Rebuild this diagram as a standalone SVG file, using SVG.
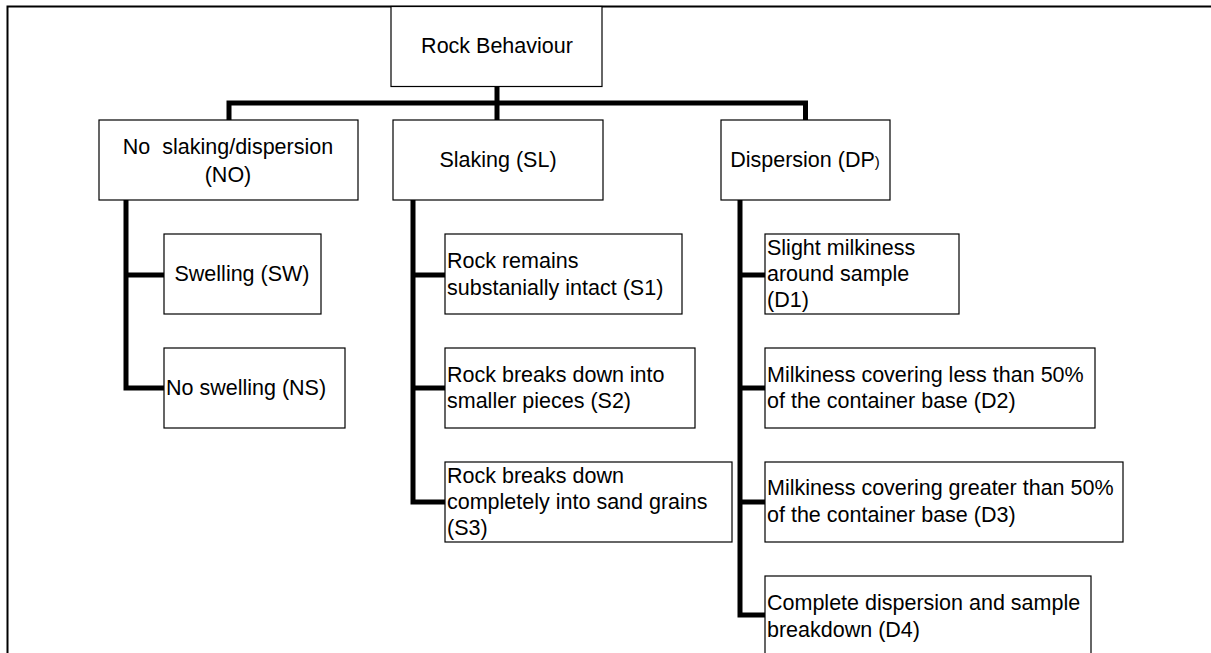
<svg xmlns="http://www.w3.org/2000/svg" width="1211" height="653" viewBox="0 0 1211 653">
<style>
.box{fill:#fff;stroke:#000;stroke-width:1.2}
.t{font-family:"Liberation Sans",Arial,sans-serif;font-size:21.5px;fill:#000}
.c{text-anchor:middle}
.conn{fill:none;stroke:#000;stroke-width:5;stroke-linejoin:miter;stroke-linecap:butt}
.frame{fill:none;stroke:#000;stroke-width:2}
</style>
<rect width="1211" height="653" fill="#fff"/>
<path class="frame" d="M7.5,653 V6.5 H1211"/>
<g id="connectors">
<path class="conn" d="M497,86 V103"/>
<path class="conn" d="M229,120 V103 H805.5 V120"/>
<path class="conn" d="M497,103 V120"/>
<path class="conn" d="M126,200 V388 H164"/>
<path class="conn" d="M126,275 H164"/>
<path class="conn" d="M413,200 V502 H445"/>
<path class="conn" d="M413,275 H445"/>
<path class="conn" d="M413,388 H445"/>
<path class="conn" d="M740,200 V615 H765"/>
<path class="conn" d="M740,275 H765"/>
<path class="conn" d="M740,388 H765"/>
<path class="conn" d="M740,502 H765"/>
</g>
<g id="root">
<rect class="box" x="391" y="6.5" width="211" height="80"/>
<text class="t c" x="497" y="53">Rock Behaviour</text>
</g>
<g id="no">
<rect class="box" x="99" y="120" width="259" height="80"/>
<text class="t c" x="228" y="154" xml:space="preserve">No  slaking/dispersion</text>
<text class="t c" x="228" y="182">(NO)</text>
</g>
<g id="sl">
<rect class="box" x="393" y="120" width="210" height="80"/>
<text class="t c" x="498" y="167">Slaking (SL)</text>
</g>
<g id="dp">
<rect class="box" x="721" y="120" width="169" height="80"/>
<text class="t c" x="805" y="167">Dispersion (DP<tspan font-size="15">)</tspan></text>
</g>
<g id="sw">
<rect class="box" x="164" y="234" width="157" height="80"/>
<text class="t c" x="242" y="281">Swelling (SW)</text>
</g>
<g id="ns">
<rect class="box" x="164" y="348" width="181" height="80"/>
<text class="t" x="166" y="395">No swelling (NS)</text>
</g>
<g id="s1">
<rect class="box" x="445" y="234" width="237" height="80"/>
<text class="t" x="447" y="268">Rock remains</text>
<text class="t" x="447" y="295">substanially intact (S1)</text>
</g>
<g id="s2">
<rect class="box" x="445" y="348" width="250" height="80"/>
<text class="t" x="447" y="382">Rock breaks down into</text>
<text class="t" x="447" y="408">smaller pieces (S2)</text>
</g>
<g id="s3">
<rect class="box" x="445" y="462" width="287" height="80"/>
<text class="t" x="447" y="483">Rock breaks down</text>
<text class="t" x="447" y="509">completely into sand grains</text>
<text class="t" x="447" y="535">(S3)</text>
</g>
<g id="d1">
<rect class="box" x="765" y="234" width="194" height="80"/>
<text class="t" x="767" y="255">Slight milkiness</text>
<text class="t" x="767" y="281">around sample</text>
<text class="t" x="767" y="307">(D1)</text>
</g>
<g id="d2">
<rect class="box" x="765" y="348" width="330" height="80"/>
<text class="t" x="767" y="382">Milkiness covering less than 50%</text>
<text class="t" x="767" y="408">of the container base (D2)</text>
</g>
<g id="d3">
<rect class="box" x="765" y="462" width="358" height="80"/>
<text class="t" x="767" y="495">Milkiness covering greater than 50%</text>
<text class="t" x="767" y="522">of the container base (D3)</text>
</g>
<g id="d4">
<rect class="box" x="765" y="576" width="326" height="90"/>
<text class="t" x="767" y="610">Complete dispersion and sample</text>
<text class="t" x="767" y="637">breakdown (D4)</text>
</g>
</svg>
